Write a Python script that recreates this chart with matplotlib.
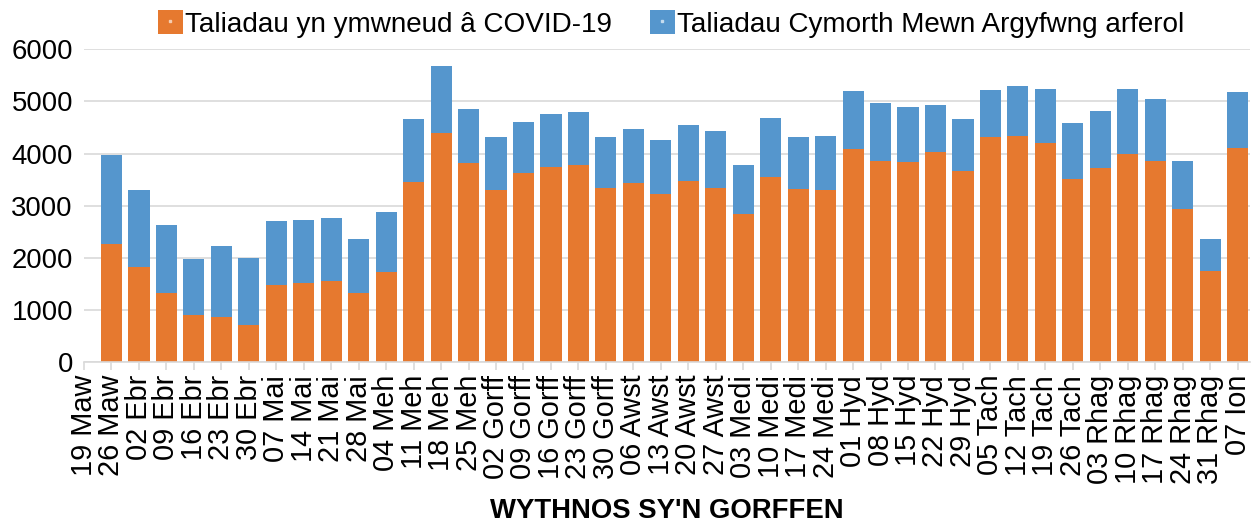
import matplotlib.pyplot as plt
from matplotlib.lines import Line2D
import numpy as np

# week-ending labels (Welsh month abbreviations)
weeks = ['19 Maw', '26 Maw', '02 Ebr', '09 Ebr', '16 Ebr', '23 Ebr', '30 Ebr',
         '07 Mai', '14 Mai', '21 Mai', '28 Mai', '04 Meh', '11 Meh', '18 Meh',
         '25 Meh', '02 Gorff', '09 Gorff', '16 Gorff', '23 Gorff', '30 Gorff',
         '06 Awst', '13 Awst', '20 Awst', '27 Awst', '03 Medi', '10 Medi',
         '17 Medi', '24 Medi', '01 Hyd', '08 Hyd', '15 Hyd', '22 Hyd', '29 Hyd',
         '05 Tach', '12 Tach', '19 Tach', '26 Tach', '03 Rhag', '10 Rhag',
         '17 Rhag', '24 Rhag', '31 Rhag', '07 Ion']

# COVID-19 related payments (orange)
covid = [0, 2260, 1830, 1320, 900, 860, 720,
         1480, 1520, 1565, 1320, 1725, 3460, 4395,
         3815, 3310, 3620, 3750, 3775, 3350,
         3440, 3220, 3480, 3350, 2845, 3545,
         3330, 3310, 4085, 3860, 3840, 4040, 3660,
         4315, 4330, 4200, 3505, 3730, 4000,
         3860, 2940, 1745, 4110]

# totals (top of each stacked bar)
total = [0, 3975, 3305, 2635, 1975, 2235, 1995,
         2710, 2730, 2775, 2370, 2880, 4665, 5685,
         4850, 4315, 4600, 4755, 4800, 4315,
         4465, 4260, 4555, 4440, 3775, 4690,
         4315, 4330, 5200, 4980, 4890, 4930, 4665,
         5220, 5290, 5245, 4595, 4815, 5245,
         5040, 3860, 2370, 5175]

# regular emergency assistance payments (blue) = total - covid
regular = [t - c for t, c in zip(total, covid)]

ORANGE = '#E6792F'
BLUE = '#5596CD'
GRID = '#D9D9D9'

plt.rcParams['font.family'] = ['Liberation Sans', 'DejaVu Sans']
plt.rcParams['font.size'] = 19.8

fig = plt.figure(figsize=(12.52, 5.24), dpi=100)
ax = fig.add_axes([84 / 1252, 1 - 362.3 / 524, (1250 - 84) / 1252, (362.3 - 49.3) / 524])

x = np.arange(len(weeks))
b1 = ax.bar(x, covid, width=0.77, color=ORANGE, zorder=2)
b2 = ax.bar(x, regular, width=0.77, bottom=covid, color=BLUE, zorder=2)

ax.set_xlim(0, 42.45)
ax.set_ylim(0, 6000)
ax.set_yticks(range(0, 6001, 1000))
ax.set_xticks(x)
ax.set_xticklabels(weeks, rotation=90, fontsize=20.8)

ax.grid(axis='y', color=GRID, linewidth=1.2, zorder=0)
for s in ['top', 'right', 'left']:
    ax.spines[s].set_visible(False)
ax.spines['bottom'].set_color(GRID)
ax.spines['bottom'].set_linewidth(1.2)
ax.tick_params(axis='y', length=0, pad=8)
ax.tick_params(axis='x', length=6, width=1.2, color=GRID, pad=3)

ax.set_xlabel("WYTHNOS SY'N GORFFEN", fontweight='bold', labelpad=10)

# legend squares carry a tiny light dot like the original
dot1 = Line2D([], [], marker='s', markersize=1.6, color='#F5CDB0', linestyle='')
dot2 = Line2D([], [], marker='s', markersize=1.6, color='#C5DCEF', linestyle='')
fig.legend(handles=[(b1, dot1), (b2, dot2)],
           labels=['Taliadau yn ymwneud â COVID-19',
                   'Taliadau Cymorth Mewn Argyfwng arferol'],
           loc='center', bbox_to_anchor=(671 / 1252, 1 - 24 / 524),
           ncol=2, frameon=False, fontsize=20.1, handlelength=0.9, handleheight=0.9,
           handletextpad=0.08, columnspacing=1.35, borderpad=0, borderaxespad=0)

fig.savefig('out.png', dpi=100)
